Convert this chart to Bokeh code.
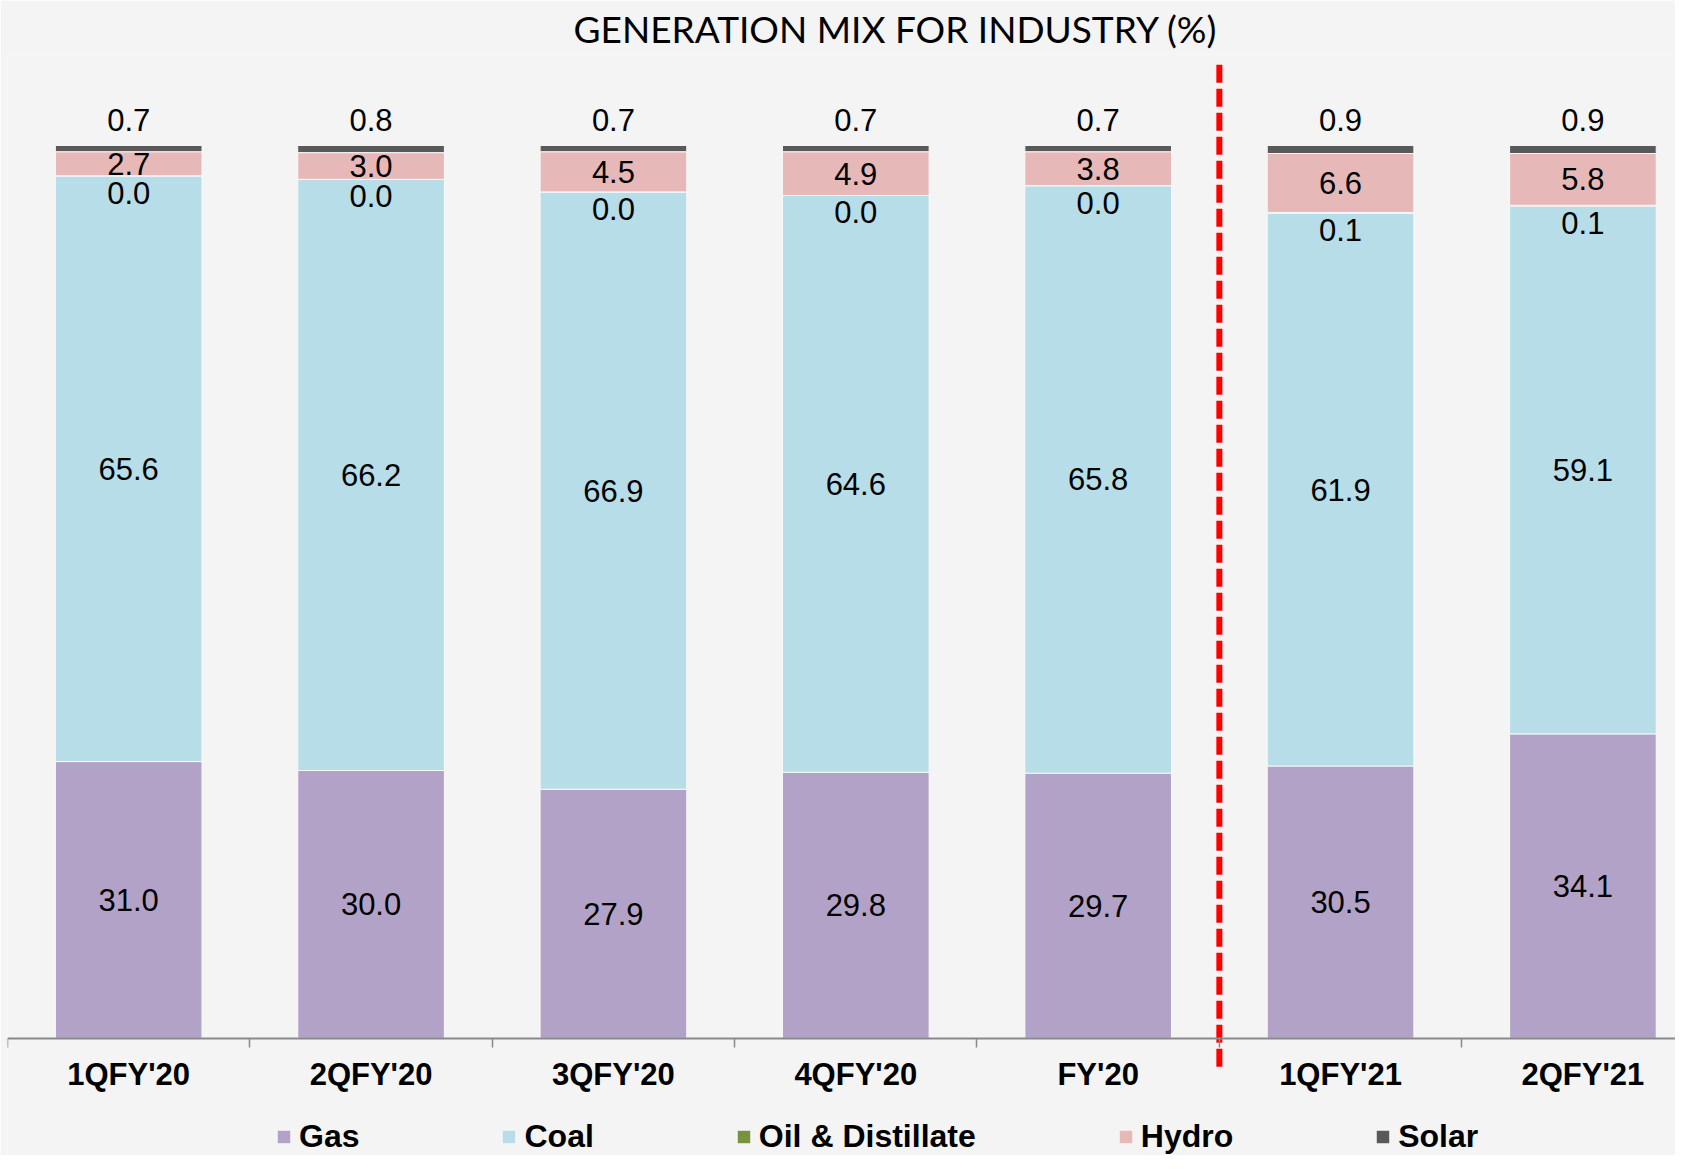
import numpy as np
from bokeh.plotting import figure
from bokeh.models import ColumnDataSource, Range1d, FixedTicker, Legend, LegendItem
from bokeh.core.properties import value
from bokeh.embed import file_html
from bokeh.resources import INLINE

categories = ["1QFY'20", "2QFY'20", "3QFY'20", "4QFY'20", "FY'20", "1QFY'21", "2QFY'21"]
gas = [31.0, 30.0, 27.9, 29.8, 29.7, 30.5, 34.1]
coal = [65.6, 66.2, 66.9, 64.6, 65.8, 61.9, 59.1]
oil = [0.0, 0.0, 0.0, 0.0, 0.0, 0.1, 0.1]
hydro = [2.7, 3.0, 4.5, 4.9, 3.8, 6.6, 5.8]
solar = [0.7, 0.8, 0.7, 0.7, 0.7, 0.9, 0.9]
series_names = ["Gas", "Coal", "Oil & Distillate", "Hydro", "Solar"]
colors = ["#b3a2c7", "#b7dde8", "#77933c", "#e6b9b8", "#595959"]
title_text = "GENERATION MIX FOR INDUSTRY (%)"

n = len(categories)
xs = np.arange(n)
fields = ["gas", "coal", "oil", "hydro", "solar"]
src = ColumnDataSource(dict(x=xs, gas=gas, coal=coal, oil=oil, hydro=hydro, solar=solar))

BG = "#f4f4f4"
Y0, Y1 = -13.12, 110.30
p = figure(width=1675, height=1155, output_backend="svg", toolbar_location=None,
           x_range=Range1d(-0.5, 6.382), y_range=Range1d(Y0, Y1),
           y_axis_location=None, min_border_left=7, min_border_right=0,
           min_border_top=0, min_border_bottom=0,
           background_fill_color=BG, border_fill_color=BG, outline_line_color=None)
p.grid.visible = False

p.title.text = title_text
p.title.text_font = "Lato"
p.title.text_font_size = "37px"
p.title.text_font_style = "normal"
p.title.text_color = "#000000"
p.title.align = "left"
p.title.offset = 566
p.title.standoff = 6

rs = p.vbar_stack(fields, x="x", width=0.605, source=src, color=colors,
                  line_color="#f8f8f8", line_width=1)

# divider between full-year and quarterly FY'21
div_x = categories.index("FY'20") + 0.5
p.segment(x0=[div_x], y0=[109.05], x1=[div_x], y1=[-3.2], line_color="#ff0000",
          line_width=6, line_dash="18 6")

# labels
g = np.array(gas); c = np.array(coal); o = np.array(oil); h = np.array(hydro); s = np.array(solar)
fmt = lambda arr: ["%.1f" % v for v in arr]
lab_x = np.concatenate([xs] * 5)
lab_y = np.concatenate([g / 2, g + c / 2, g + c - 1.9, g + c + o + h / 2, g + c + o + h + s + 2.9])
lab_t = fmt(g) + fmt(c) + fmt(o) + fmt(h) + fmt(s)
p.text(x=lab_x, y=lab_y, text=lab_t, text_font=value("Liberation Sans"),
       text_font_size="31px", text_color="#000000", text_align="center",
       text_baseline="middle")

ax = p.xaxis[0]
ax.fixed_location = 0
ax.ticker = FixedTicker(ticks=[int(i) for i in xs],
                        minor_ticks=[float(v) for v in np.arange(n + 1) - 0.5])
ax.major_label_overrides = {int(i): cat for i, cat in zip(xs, categories)}
ax.major_label_text_font = "Liberation Sans"
ax.major_label_text_font_style = "bold"
ax.major_label_text_font_size = "31px"
ax.major_label_text_color = "#000000"
ax.major_label_standoff = 10
ax.major_tick_out = 0
ax.major_tick_in = 0
ax.minor_tick_out = 9
ax.minor_tick_in = 0
ax.minor_tick_line_color = "#898989"
ax.minor_tick_line_width = 1.5
ax.axis_line_color = "#898989"
ax.axis_line_width = 2

items = [LegendItem(label=nm, renderers=[r]) for nm, r in zip(series_names, rs)]
leg = Legend(items=items, orientation="horizontal", location=(268, 0),
             glyph_width=17, glyph_height=17, label_standoff=7, spacing=141,
             label_text_font="Liberation Sans", label_text_font_style="bold",
             label_text_font_size="32px", label_text_color="#000000",
             label_text_line_height=0.9,
             background_fill_alpha=0, border_line_color=None, padding=0, margin=0)
p.add_layout(leg, "center")

open("out.html", "w").write(file_html(p, INLINE))
